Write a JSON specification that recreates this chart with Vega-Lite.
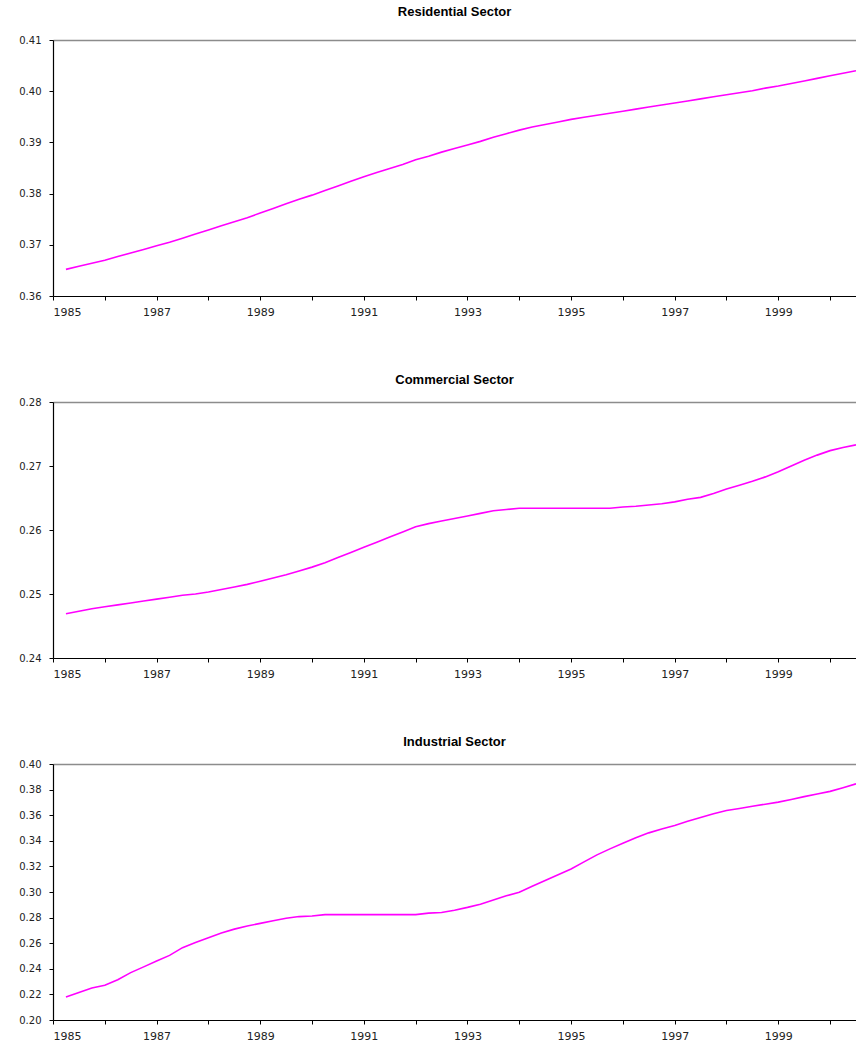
{
  "$schema": "https://vega.github.io/schema/vega-lite/v6.json",
  "padding": {"left": 18, "top": 6, "right": 0, "bottom": 0},
  "spacing": 57,
  "config": {
    "view": {"stroke": null},
    "axis": {"domainColor": "#000000", "tickColor": "#000000", "labelColor": "#222222", "labelFont": "DejaVu Sans", "labelFontSize": 10, "tickSize": 4, "title": null, "domainWidth": 1.2, "tickWidth": 1},
    "title": {"font": "Liberation Sans", "fontSize": 13, "fontWeight": "bold", "color": "#000000", "anchor": "middle", "offset": 10},
    "line": {"color": "#FF00FF", "strokeWidth": 1.6}
  },
  "datasets": {
    "res": [
      {"year":1985.25,"value":0.3652},{"year":1985.5,"value":0.3658},{"year":1985.75,"value":0.3664},{"year":1986,"value":0.3670},
      {"year":1986.25,"value":0.3677},{"year":1986.5,"value":0.3684},{"year":1986.75,"value":0.3691},{"year":1987,"value":0.3698},
      {"year":1987.25,"value":0.3705},{"year":1987.5,"value":0.3713},{"year":1987.75,"value":0.3721},{"year":1988,"value":0.3729},
      {"year":1988.25,"value":0.3737},{"year":1988.5,"value":0.3745},{"year":1988.75,"value":0.3753},{"year":1989,"value":0.3762},
      {"year":1989.25,"value":0.3771},{"year":1989.5,"value":0.3780},{"year":1989.75,"value":0.3789},{"year":1990,"value":0.3797},
      {"year":1990.25,"value":0.3806},{"year":1990.5,"value":0.3815},{"year":1990.75,"value":0.3824},{"year":1991,"value":0.3833},
      {"year":1991.25,"value":0.3841},{"year":1991.5,"value":0.3849},{"year":1991.75,"value":0.3857},{"year":1992,"value":0.3866},
      {"year":1992.25,"value":0.3873},{"year":1992.5,"value":0.3881},{"year":1992.75,"value":0.3888},{"year":1993,"value":0.3895},
      {"year":1993.25,"value":0.3902},{"year":1993.5,"value":0.3910},{"year":1993.75,"value":0.3917},{"year":1994,"value":0.3924},
      {"year":1994.25,"value":0.3930},{"year":1994.5,"value":0.3935},{"year":1994.75,"value":0.3940},{"year":1995,"value":0.3945},
      {"year":1995.25,"value":0.3949},{"year":1995.5,"value":0.3953},{"year":1995.75,"value":0.3957},{"year":1996,"value":0.3961},
      {"year":1996.25,"value":0.3965},{"year":1996.5,"value":0.3969},{"year":1996.75,"value":0.3973},{"year":1997,"value":0.3977},
      {"year":1997.25,"value":0.3981},{"year":1997.5,"value":0.3985},{"year":1997.75,"value":0.3989},{"year":1998,"value":0.3993},
      {"year":1998.25,"value":0.3997},{"year":1998.5,"value":0.4001},{"year":1998.75,"value":0.4006},{"year":1999,"value":0.4010},
      {"year":1999.25,"value":0.4015},{"year":1999.5,"value":0.4020},{"year":1999.75,"value":0.4025},{"year":2000,"value":0.4030},
      {"year":2000.25,"value":0.4035},{"year":2000.5,"value":0.4040}
    ],
    "com": [
      {"year":1985.25,"value":0.2469},{"year":1985.5,"value":0.2473},{"year":1985.75,"value":0.2477},{"year":1986,"value":0.2480},
      {"year":1986.25,"value":0.2483},{"year":1986.5,"value":0.2486},{"year":1986.75,"value":0.2489},{"year":1987,"value":0.2492},
      {"year":1987.25,"value":0.2495},{"year":1987.5,"value":0.2498},{"year":1987.75,"value":0.2500},{"year":1988,"value":0.2503},
      {"year":1988.25,"value":0.2507},{"year":1988.5,"value":0.2511},{"year":1988.75,"value":0.2515},{"year":1989,"value":0.2520},
      {"year":1989.25,"value":0.2525},{"year":1989.5,"value":0.2530},{"year":1989.75,"value":0.2536},{"year":1990,"value":0.2542},
      {"year":1990.25,"value":0.2549},{"year":1990.5,"value":0.2557},{"year":1990.75,"value":0.2565},{"year":1991,"value":0.2573},
      {"year":1991.25,"value":0.2581},{"year":1991.5,"value":0.2589},{"year":1991.75,"value":0.2597},{"year":1992,"value":0.2605},
      {"year":1992.25,"value":0.2610},{"year":1992.5,"value":0.2614},{"year":1992.75,"value":0.2618},{"year":1993,"value":0.2622},
      {"year":1993.25,"value":0.2626},{"year":1993.5,"value":0.2630},{"year":1993.75,"value":0.2632},{"year":1994,"value":0.2634},
      {"year":1994.25,"value":0.2634},{"year":1994.5,"value":0.2634},{"year":1994.75,"value":0.2634},{"year":1995,"value":0.2634},
      {"year":1995.25,"value":0.2634},{"year":1995.5,"value":0.2634},{"year":1995.75,"value":0.2634},{"year":1996,"value":0.2636},
      {"year":1996.25,"value":0.2637},{"year":1996.5,"value":0.2639},{"year":1996.75,"value":0.2641},{"year":1997,"value":0.2644},
      {"year":1997.25,"value":0.2648},{"year":1997.5,"value":0.2651},{"year":1997.75,"value":0.2657},{"year":1998,"value":0.2664},
      {"year":1998.25,"value":0.2670},{"year":1998.5,"value":0.2676},{"year":1998.75,"value":0.2683},{"year":1999,"value":0.2691},
      {"year":1999.25,"value":0.2700},{"year":1999.5,"value":0.2709},{"year":1999.75,"value":0.2717},{"year":2000,"value":0.2724},
      {"year":2000.25,"value":0.2729},{"year":2000.5,"value":0.2733}
    ],
    "ind": [
      {"year":1985.25,"value":0.2180},{"year":1985.5,"value":0.2215},{"year":1985.75,"value":0.2250},{"year":1986,"value":0.2271},
      {"year":1986.25,"value":0.2315},{"year":1986.5,"value":0.2370},{"year":1986.75,"value":0.2415},{"year":1987,"value":0.2461},
      {"year":1987.25,"value":0.2505},{"year":1987.5,"value":0.2565},{"year":1987.75,"value":0.2605},{"year":1988,"value":0.2643},
      {"year":1988.25,"value":0.2680},{"year":1988.5,"value":0.2710},{"year":1988.75,"value":0.2735},{"year":1989,"value":0.2755},
      {"year":1989.25,"value":0.2775},{"year":1989.5,"value":0.2795},{"year":1989.75,"value":0.2808},{"year":1990,"value":0.2812},
      {"year":1990.25,"value":0.2823},{"year":1990.5,"value":0.2823},{"year":1990.75,"value":0.2823},{"year":1991,"value":0.2823},
      {"year":1991.25,"value":0.2823},{"year":1991.5,"value":0.2823},{"year":1991.75,"value":0.2823},{"year":1992,"value":0.2823},
      {"year":1992.25,"value":0.2835},{"year":1992.5,"value":0.2840},{"year":1992.75,"value":0.2858},{"year":1993,"value":0.2880},
      {"year":1993.25,"value":0.2905},{"year":1993.5,"value":0.2937},{"year":1993.75,"value":0.2970},{"year":1994,"value":0.2998},
      {"year":1994.25,"value":0.3045},{"year":1994.5,"value":0.3090},{"year":1994.75,"value":0.3135},{"year":1995,"value":0.3180},
      {"year":1995.25,"value":0.3235},{"year":1995.5,"value":0.3290},{"year":1995.75,"value":0.3337},{"year":1996,"value":0.3380},
      {"year":1996.25,"value":0.3423},{"year":1996.5,"value":0.3462},{"year":1996.75,"value":0.3493},{"year":1997,"value":0.3520},
      {"year":1997.25,"value":0.3552},{"year":1997.5,"value":0.3582},{"year":1997.75,"value":0.3612},{"year":1998,"value":0.3637},
      {"year":1998.25,"value":0.3653},{"year":1998.5,"value":0.3670},{"year":1998.75,"value":0.3686},{"year":1999,"value":0.3702},
      {"year":1999.25,"value":0.3723},{"year":1999.5,"value":0.3745},{"year":1999.75,"value":0.3766},{"year":2000,"value":0.3786},
      {"year":2000.25,"value":0.3815},{"year":2000.5,"value":0.3845}
    ]
  },
  "vconcat": [
    {
      "title": {"text": "Residential Sector", "offset": 16},
      "width": 803, "height": 256,
      "data": {"name": "res"},
      "mark": {"type": "line"},
      "encoding": {
        "x": {"field": "year", "type": "quantitative", "scale": {"domain": [1985, 2000.5], "nice": false, "zero": false},
              "axis": {"values": [1985,1986,1987,1988,1989,1990,1991,1992,1993,1994,1995,1996,1997,1998,1999,2000], "labelExpr": "datum.value % 2 == 1 ? datum.value : ''", "labelFontSize": 11, "labelPadding": 6, "grid": false}},
        "y": {"field": "value", "type": "quantitative", "scale": {"domain": [0.36, 0.41], "nice": false, "zero": false},
              "axis": {"values": [0.36,0.37,0.38,0.39,0.40,0.41], "format": ".2f", "labelPadding": 8, "grid": true, "gridWidth": 1.5,
                       "gridColor": {"condition": {"test": "datum.value > 0.4095", "value": "#8c8c8c"}, "value": "transparent"}}}
      }
    },
    {
      "title": {"text": "Commercial Sector", "offset": 10},
      "width": 803, "height": 256,
      "data": {"name": "com"},
      "mark": {"type": "line"},
      "encoding": {
        "x": {"field": "year", "type": "quantitative", "scale": {"domain": [1985, 2000.5], "nice": false, "zero": false},
              "axis": {"values": [1985,1986,1987,1988,1989,1990,1991,1992,1993,1994,1995,1996,1997,1998,1999,2000], "labelExpr": "datum.value % 2 == 1 ? datum.value : ''", "labelFontSize": 11, "labelPadding": 6, "grid": false}},
        "y": {"field": "value", "type": "quantitative", "scale": {"domain": [0.24, 0.28], "nice": false, "zero": false},
              "axis": {"values": [0.24,0.25,0.26,0.27,0.28], "format": ".2f", "labelPadding": 8, "grid": true, "gridWidth": 1.5,
                       "gridColor": {"condition": {"test": "datum.value > 0.2795", "value": "#8c8c8c"}, "value": "transparent"}}}
      }
    },
    {
      "title": {"text": "Industrial Sector", "offset": 10},
      "width": 803, "height": 256,
      "data": {"name": "ind"},
      "mark": {"type": "line"},
      "encoding": {
        "x": {"field": "year", "type": "quantitative", "scale": {"domain": [1985, 2000.5], "nice": false, "zero": false},
              "axis": {"values": [1985,1986,1987,1988,1989,1990,1991,1992,1993,1994,1995,1996,1997,1998,1999,2000], "labelExpr": "datum.value % 2 == 1 ? datum.value : ''", "labelFontSize": 11, "labelPadding": 6, "grid": false}},
        "y": {"field": "value", "type": "quantitative", "scale": {"domain": [0.20, 0.40], "nice": false, "zero": false},
              "axis": {"values": [0.20,0.22,0.24,0.26,0.28,0.30,0.32,0.34,0.36,0.38,0.40], "format": ".2f", "labelPadding": 8, "grid": true, "gridWidth": 1.5,
                       "gridColor": {"condition": {"test": "datum.value > 0.399", "value": "#8c8c8c"}, "value": "transparent"}}}
      }
    }
  ]
}
